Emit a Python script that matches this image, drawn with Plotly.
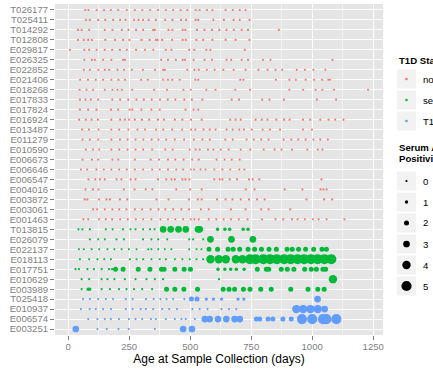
import plotly.graph_objects as go

# ---------------------------------------------------------------------------
# Sample ages (days) per subject; antibody positivity counts where > 0 occurs
# ---------------------------------------------------------------------------

# nonconverters (all samples antibody negative)
age_T026177 = [70, 83, 117, 147, 175, 205, 240, 273, 304, 336, 368, 400, 430, 461, 488, 522, 539, 569, 591, 645, 675, 703, 727]
age_T025411 = [72, 89, 123, 152, 184, 213, 235, 270, 288, 307, 330, 359, 398, 427, 462, 483, 522, 533, 595, 638, 678, 703, 743]
age_T014292 = [40, 55, 86, 150, 181, 220, 247, 278, 307, 348, 355, 411, 427, 469, 480, 528, 559, 589, 619, 649, 679, 711, 737, 863]
age_T012808 = [40, 64, 82, 97, 152, 192, 225, 251, 300, 334, 359, 366, 385, 426, 469, 482, 525, 553, 591, 645, 686, 743]
age_E029817 = [7, 66, 86, 116, 150, 180, 212, 240, 278, 315, 349, 400, 423, 496, 517, 566, 583, 724]
age_E026325 = [66, 97, 109, 143, 177, 225, 233, 381, 409, 441, 469, 479, 514, 559, 589, 649, 668, 711, 737, 798, 829, 1083]
age_E022852 = [64, 89, 124, 150, 168, 202, 229, 261, 306, 356, 389, 396, 488, 517, 535, 568, 600, 636, 678, 727, 780, 817, 850, 877, 937, 970, 1005, 1054]
age_E021406 = [49, 81, 113, 143, 177, 206, 233, 299, 326, 389, 409, 426, 457, 521, 533, 705, 718, 851, 906, 933, 973, 1008, 1041, 1066, 1073]
age_E018268 = [47, 75, 102, 150, 181, 202, 220, 262, 352, 405, 472, 502, 566, 604, 685, 745, 906, 963, 1014, 1042, 1089, 1229]
age_E017833 = [48, 71, 93, 123, 181, 213, 246, 280, 310, 342, 376, 408, 439, 476, 507, 550, 670, 700, 795, 825, 884, 1019, 1098]
age_E017824 = [48, 82, 116, 175, 205, 252, 263, 300, 341, 375, 481, 514, 533]
age_E016924 = [45, 72, 96, 122, 177, 213, 232, 250, 273, 302, 332, 368, 392, 437, 468, 503, 547, 664, 686, 707, 768, 793, 817, 853, 885, 907, 962, 992, 1033, 1067, 1094, 1128]
age_E013487 = [57, 85, 124, 177, 209, 247, 284, 315, 360, 389, 426, 467, 503, 521, 555, 580, 604, 649, 674, 701, 720, 752, 797, 827, 868, 962, 999]
age_E011279 = [59, 89, 123, 177, 212, 243, 276, 308, 342, 370, 402, 437, 475, 515, 550, 580, 644, 674, 731, 761, 791, 821, 883, 914, 943, 973, 1005, 1033, 1064]
age_E010590 = [72, 102, 127, 177, 209, 243, 276, 307, 344, 398, 428, 498, 522, 539, 573, 595, 625, 658, 707, 746, 801, 846, 874, 917, 980, 1023, 1042]
age_E006673 = [59, 97, 123, 181, 205, 273, 338, 372, 409, 439, 473, 508, 535, 608, 641, 670, 703]
age_E006646 = [52, 78, 116, 146, 177, 209, 240, 273, 307, 344, 375, 409, 443, 471, 502, 516, 542, 563, 599, 632, 664, 701, 722]
age_E006547 = [83, 111, 130, 150, 198, 218, 256, 276, 368, 402, 423, 437, 468, 480, 497, 599, 621, 632, 662, 692, 741, 756, 783, 1038]
age_E004016 = [71, 102, 124, 228, 272, 318, 345, 443, 500, 547, 728, 764, 887, 960, 1034, 1046, 1059]
age_E003872 = [68, 79, 126, 157, 171, 212, 242, 362, 411, 495, 531, 547, 610, 645, 673, 707, 741, 774, 805, 977, 1049, 1082]
age_E003061 = [102, 119, 150, 181, 209, 239, 273, 303, 338, 370, 398, 430, 464, 495, 544, 576, 667, 727, 791, 821, 910]
age_E001463 = [62, 82, 126, 154, 180, 213, 244, 277, 307, 341, 378, 409, 439, 471, 502, 517, 535, 576, 607, 637, 667, 699, 735, 794, 850, 881, 917, 940, 970, 1003, 1026, 1059, 1132]

# seroconverters
age_T013815 = [42, 58, 89, 154, 182, 225, 255, 276, 307, 335, 354, 389, 420, 452, 482, 532, 539, 612, 642, 662, 717, 737]
ab_T013815 = [0, 0, 0, 0, 0, 0, 0, 0, 0, 0, 0, 3, 3, 3, 3, 3, 3, 1, 1, 1, 1, 1]
age_E026079 = [89, 123, 150, 198, 228, 307, 341, 369, 406, 496, 512, 553, 583, 669, 757]
ab_E026079 = [0, 0, 0, 0, 0, 0, 0, 0, 0, 0, 0, 0, 3, 3, 3]
age_E022137 = [44, 64, 96, 127, 161, 189, 219, 249, 280, 328, 341, 369, 396, 423, 496, 526, 546,
               577, 612, 655, 676, 703, 737, 764, 792, 823, 853, 897, 918, 944, 973, 1006, 1040, 1058]
ab_E022137 = [0, 0, 0, 0, 0, 0, 0, 0, 0, 0, 0, 0, 0, 0, 0, 0, 0,
              2, 2, 2, 2, 2, 2, 2, 2, 2, 2, 2, 2, 2, 2, 2, 2, 2]
age_E018113 = [48, 86, 120, 148, 175, 253, 280, 307, 341, 375, 400, 437, 468, 498, 526, 553,
               583, 617, 646, 687, 714, 745, 768, 800, 827, 855, 885, 912, 940, 967, 995, 1022, 1050, 1078]
ab_E018113 = [0, 0, 0, 0, 0, 0, 0, 0, 0, 0, 0, 0, 0, 0, 0, 0,
              4, 4, 4, 4, 4, 5, 5, 5, 5, 5, 5, 5, 5, 5, 5, 5, 5, 5]
age_E017751 = [30, 44, 79, 105, 137, 167, 180, 194, 225, 287, 335, 382, 393, 437, 475, 501,
               614, 642, 666, 689, 721, 775, 812, 822, 873, 898, 925, 969, 996, 1017, 1044, 1055]
ab_E017751 = [0, 0, 0, 0, 0, 0, 0, 2, 2, 2, 2, 2, 2, 2, 2, 2,
              1, 1, 1, 1, 1, 2, 2, 2, 2, 2, 2, 2, 2, 2, 2, 2]
age_E010629 = [55, 86, 137, 161, 189, 232, 276, 321, 355, 389, 618, 1085]
ab_E010629 = [0, 0, 0, 0, 0, 0, 0, 0, 0, 0, 0, 4]
age_E003989 = [55, 82, 88, 137, 171, 208, 239, 270, 303, 344, 403, 437, 474, 530,
               635, 659, 682, 718, 745, 789, 832, 912, 983, 1023, 1049]
ab_E003989 = [0, 1, 1, 0, 0, 0, 0, 0, 0, 0, 2, 2, 2, 2,
              2, 2, 2, 2, 2, 2, 2, 2, 2, 2, 2]

# T1D cases
age_T025418 = [61, 89, 123, 154, 184, 236, 264, 319, 350, 378, 403, 430, 476,
               505, 528, 566, 595, 628, 696, 720, 1022]
ab_T025418 = [0, 0, 0, 0, 0, 0, 0, 0, 0, 0, 0, 0, 0,
              2, 2, 1, 1, 1, 1, 1, 3]
age_E010937 = [52, 88, 113, 143, 175, 236, 264, 297, 318, 348, 385, 414, 446,
               509, 539, 571, 628, 659, 689, 935, 963, 993, 1023, 1051]
ab_E010937 = [0, 0, 0, 0, 0, 0, 0, 0, 0, 0, 0, 0, 0,
              0, 0, 0, 0, 0, 0, 4, 4, 4, 4, 3]
age_E006574 = [82, 120, 150, 175, 208, 249, 276, 303, 339, 359, 400, 437, 464, 482, 519,
               560, 580, 614, 648, 682, 703, 771, 785, 819, 839, 880, 914, 958, 1000, 1044, 1058, 1099]
ab_E006574 = [0, 0, 0, 0, 0, 0, 0, 0, 0, 0, 0, 0, 0, 0, 0,
              3, 3, 3, 3, 3, 3, 2, 2, 2, 2, 2, 2, 5, 5, 5, 5, 5]
age_E003251 = [31, 120, 158, 206, 248, 355, 471, 507]
ab_E003251 = [3, 0, 0, 0, 0, 0, 3, 3]

# subject order, bottom to top, per status group
subjects_t1d = ["E003251", "E006574", "E010937", "T025418"]
subjects_sero = ["E003989", "E010629", "E017751", "E018113", "E022137", "E026079", "T013815"]
subjects_non = ["E001463", "E003061", "E003872", "E004016", "E006547", "E006646", "E006673",
                "E010590", "E011279", "E013487", "E016924", "E017824", "E017833", "E018268",
                "E021406", "E022852", "E026325", "E029817", "T012808", "T014292", "T025411", "T026177"]

status_names = ["nonconverter", "seroconverter", "T1D"]
status_colors = ["#F8766D", "#00BA38", "#619CFF"]
size_levels = [0, 1, 2, 3, 4, 5]
x_ticks = [0, 250, 500, 750, 1000, 1250]
x_minor = [125, 375, 625, 875, 1125]

# ---------------------------------------------------------------------------
g = globals()
# marker diameter (px) per antibody positivity level
SIZE_PX = {0: 2.2, 1: 3.4, 2: 5.0, 3: 6.7, 4: 8.4, 5: 10.2}


def collect(subjects):
    xs, ys, ss = [], [], []
    for s in subjects:
        ages = g["age_" + s]
        abs_ = g.get("ab_" + s, [0] * len(ages))
        xs += ages
        ys += [s] * len(ages)
        ss += [SIZE_PX[a] for a in abs_]
    return xs, ys, ss


groups = [subjects_non, subjects_sero, subjects_t1d]
order = subjects_t1d + subjects_sero + subjects_non

fig = go.Figure()
all_x = []
for name, col, subj in zip(status_names, status_colors, groups):
    xs, ys, ss = collect(subj)
    all_x += xs
    fig.add_trace(go.Scatter(
        x=xs, y=ys, mode="markers", name=name, showlegend=False,
        marker=dict(color=col, size=ss, line=dict(width=0), opacity=1),
    ))

span = max(all_x) - min(all_x)
x_range = [min(all_x) - 0.05 * span, max(all_x) + 0.05 * span]

W, H = 433, 369
ML, MR, MT, MB = 55, 50, 4, 34
PW, PH = W - ML - MR, H - MT - MB
FONT = "Liberation Sans, Arial, Helvetica, sans-serif"
GREY = "#7F7F7F"


def xp(px):
    return (px - ML) / PW


def yp(py):
    return (H - MB - py) / PH


fig.update_layout(
    width=W, height=H,
    margin=dict(l=ML, r=MR, t=MT, b=MB, autoexpand=False),
    paper_bgcolor="white",
    plot_bgcolor="#E5E5E5",
    font=dict(family=FONT, color="black"),
    showlegend=False,
)

fig.update_xaxes(
    range=x_range, tickmode="array", tickvals=x_ticks,
    ticks="outside", ticklen=4, tickwidth=1, tickcolor=GREY,
    tickfont=dict(size=9.6, color=GREY, family=FONT),
    ticklabelstandoff=-2,
    showgrid=True, gridcolor="white", gridwidth=1,
    minor=dict(tickvals=x_minor, showgrid=True, gridcolor="#F2F2F2", gridwidth=0.6, ticks=""),
    zeroline=False, showline=False,
    title=dict(text="Age at Sample Collection (days)", font=dict(size=12, color="black", family=FONT), standoff=1),
)
fig.update_yaxes(
    type="category", categoryorder="array", categoryarray=order,
    tickmode="array", tickvals=order, ticktext=order,
    range=[-0.6, len(order) - 0.4],
    ticks="outside", ticklen=4, tickwidth=1, tickcolor=GREY,
    tickfont=dict(size=9.6, color=GREY, family=FONT),
    showgrid=True, gridcolor="white", gridwidth=1,
    zeroline=False, showline=False,
)

# ---------------------------------------------------------------------------
# legends: colour (status) and size (antibody positivity)
shapes, annots = [], []
KEY_L, KEY_W = 397, 19
KEY_C = KEY_L + KEY_W / 2
LABEL_X = 420.5
ROW = 21


def key_box(cy):
    shapes.append(dict(type="rect", xref="paper", yref="paper",
                       x0=xp(KEY_L), x1=xp(KEY_L + KEY_W),
                       y0=yp(cy + KEY_W / 2), y1=yp(cy - KEY_W / 2),
                       fillcolor="#F2F2F2", line=dict(width=0), layer="above"))


def key_dot(cy, d, color):
    shapes.append(dict(type="circle", xref="paper", yref="paper",
                       xsizemode="pixel", ysizemode="pixel",
                       xanchor=xp(KEY_C), yanchor=yp(cy),
                       x0=-d / 2, x1=d / 2, y0=-d / 2, y1=d / 2,
                       fillcolor=color, line=dict(width=0), layer="above"))


def text(px, py, s, bold=False):
    annots.append(dict(xref="paper", yref="paper", x=xp(px), y=yp(py),
                       xanchor="left", yanchor="middle", showarrow=False,
                       text=("<b>%s</b>" % s) if bold else s,
                       font=dict(size=9.6, color="black", family=FONT)))


text(KEY_L, 60, "T1D Status", bold=True)
for i, (name, col) in enumerate(zip(status_names, status_colors)):
    cy = 79 + i * ROW
    key_box(cy)
    key_dot(cy, 2.6, col)
    text(LABEL_X, cy, name)

text(KEY_L, 147.5, "Serum Antibody", bold=True)
text(KEY_L, 158.5, "Positivity", bold=True)
for i, lvl in enumerate(size_levels):
    cy = 181 + i * ROW
    key_box(cy)
    key_dot(cy, SIZE_PX[lvl], "black")
    text(LABEL_X, cy, str(lvl))

fig.update_layout(shapes=shapes, annotations=annots)

fig.write_html("out.html")
